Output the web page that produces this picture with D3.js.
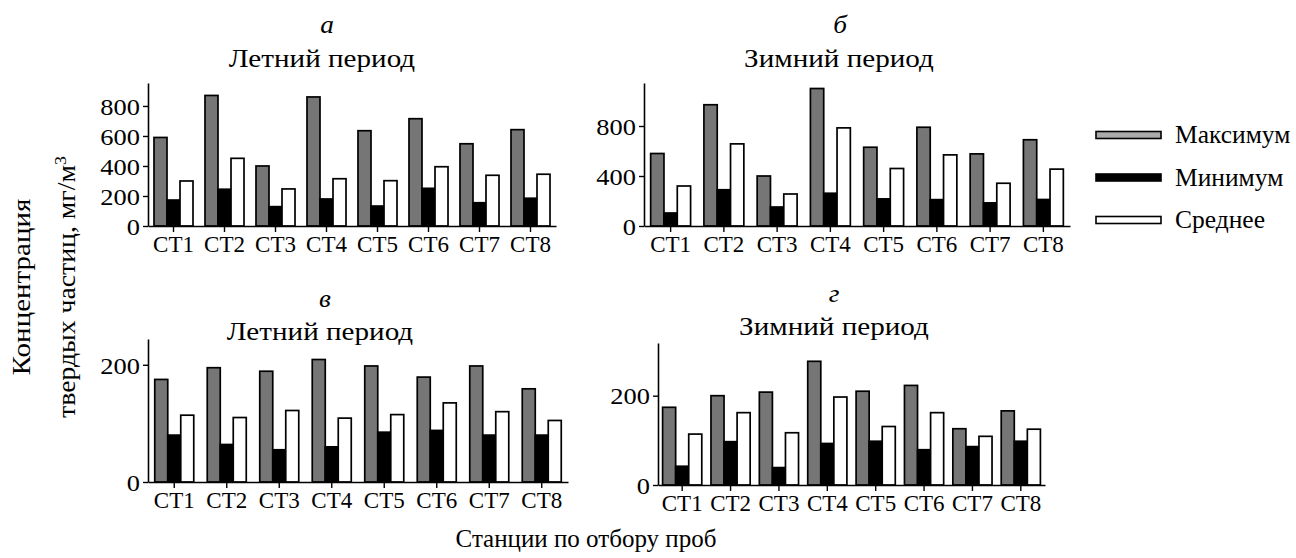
<!DOCTYPE html>
<html>
<head>
<meta charset="utf-8">
<script src="https://cdn.jsdelivr.net/npm/d3@7"></script>
<style>
  html, body { margin: 0; padding: 0; background: #fff; }
  svg { display: block; }
  text { font-family: "Liberation Serif", "Times New Roman", serif; fill: #000; }
</style>
</head>
<body>
<svg id="chart" width="1296" height="558"></svg>
<script>
// ---- data ----
const stations = ["СТ1", "СТ2", "СТ3", "СТ4", "СТ5", "СТ6", "СТ7", "СТ8"];
const seriesNames = ["Максимум", "Минимум", "Среднее"];

// panel а — summer (top)
const summerTopMax  = [590, 870, 400, 860, 635, 715, 548, 642];
const summerTopMin  = [173, 245, 129, 180, 133, 251, 155, 185];
const summerTopMean = [300, 451, 247, 315, 302, 395, 338, 345];
// panel б — winter (top)
const winterTopMax  = [580, 970, 400, 1100, 630, 790, 577, 690];
const winterTopMin  = [104, 290, 152, 262, 217, 211, 185, 212];
const winterTopMean = [320, 657, 256, 785, 460, 569, 342, 455];
// panel в — summer (bottom)
const summerBotMax  = [175, 195, 189, 209, 198, 179, 198, 159];
const summerBotMin  = [80, 64, 55, 60, 85, 88, 80, 80];
const summerBotMean = [114, 110, 122, 109, 115, 135, 120, 105];
// panel г — winter (bottom)
const winterBotMax  = [174, 200, 208, 277, 210, 223, 126, 166];
const winterBotMin  = [42, 97, 39, 93, 98, 79, 86, 98];
const winterBotMean = [114, 162, 117, 197, 131, 162, 109, 125];

const ticksTop1 = [0, 200, 400, 600, 800];
const ticksTop2 = [0, 400, 800];
const ticksBot  = [0, 200];

// ---- layout ----
const panels = [
  { letter: "а", title: "Летний период", max: summerTopMax, min: summerTopMin, mean: summerTopMean,
    ticks: ticksTop1, yMax: 953, x0: 148, x1: 556, yBase: 226, yTop: 83, pad: 0.235,
    letterPos: [327, 33], titlePos: [322, 67] },
  { letter: "б", title: "Зимний период", max: winterTopMax, min: winterTopMin, mean: winterTopMean,
    ticks: ticksTop2, yMax: 1144, x0: 644, x1: 1070, yBase: 226, yTop: 83, pad: 0.25,
    letterPos: [840, 33], titlePos: [839, 67] },
  { letter: "в", title: "Летний период", max: summerBotMax, min: summerBotMin, mean: summerBotMean,
    ticks: ticksBot, yMax: 244, x0: 148, x1: 568, yBase: 482, yTop: 339, pad: 0.257,
    letterPos: [325, 307], titlePos: [320, 340] },
  { letter: "г", title: "Зимний период", max: winterBotMax, min: winterBotMin, mean: winterBotMean,
    ticks: ticksBot, yMax: 318, x0: 658, x1: 1045, yBase: 485, yTop: 343, pad: 0.19,
    letterPos: [834, 302], titlePos: [834, 335] }
];
const fills = ["#767676", "#000000", "#ffffff"];

const svg = d3.select("#chart");

// horizontally stretched text helper
function addText(x, y, str, size, sx, anchor, italic) {
  const t = svg.append("text")
    .attr("transform", `translate(${x},${y}) scale(${sx},1)`)
    .attr("text-anchor", anchor || "middle")
    .style("font-size", size + "px")
    .text(str);
  if (italic) t.style("font-style", "italic");
  return t;
}

panels.forEach(p => {
  const g = svg.append("g");
  const x = d3.scaleBand().domain(stations).range([p.x0, p.x1])
    .paddingInner(p.pad).paddingOuter(p.pad / 2);
  const xs = d3.scaleBand().domain(seriesNames).range([0, x.bandwidth()]);
  const y = d3.scaleLinear().domain([0, p.yMax]).range([p.yBase, p.yTop]);

  const vals = [p.max, p.min, p.mean];
  stations.forEach((s, i) => {
    seriesNames.forEach((sn, k) => {
      const v = vals[k][i];
      g.append("rect")
        .attr("x", x(s) + xs(sn))
        .attr("y", y(v))
        .attr("width", xs.bandwidth())
        .attr("height", y(0) - y(v))
        .attr("fill", fills[k])
        .attr("stroke", "#000")
        .attr("stroke-width", 1.7);
    });
  });

  const yAxis = d3.axisLeft(y).tickValues(p.ticks).tickSize(5).tickSizeOuter(0).tickPadding(2);
  const ya = g.append("g").attr("transform", `translate(${p.x0},0)`).call(yAxis);
  ya.select(".domain").attr("stroke-width", 1.6);
  ya.selectAll(".tick line").attr("stroke-width", 1.4);
  ya.selectAll("text").style("font-size", "23px").attr("dy", "0.36em")
    .attr("transform", "scale(1.15,1)");

  const xAxis = d3.axisBottom(x).tickSize(6).tickSizeOuter(0).tickPadding(4);
  const xa = g.append("g").attr("transform", `translate(0,${p.yBase})`).call(xAxis);
  xa.select(".domain").attr("stroke-width", 1.6);
  xa.selectAll(".tick line").attr("stroke-width", 1.4);
  xa.selectAll("text").style("font-size", "23px");

  addText(p.letterPos[0], p.letterPos[1], p.letter, 26, 1.05, "middle", true);
  addText(p.titlePos[0], p.titlePos[1], p.title, 26, 1.12, "middle");
});

// legend
const legendFills = ["#aaaaaa", "#000000", "#ffffff"];
seriesNames.forEach((sn, k) => {
  const cy = 135 + k * 42.5;
  svg.append("rect").attr("x", 1096).attr("y", cy - 3.5).attr("width", 65).attr("height", 7)
    .attr("fill", legendFills[k]).attr("stroke", "#000").attr("stroke-width", 1.6);
  svg.append("text").attr("x", 1175).attr("y", cy).attr("dy", "0.33em")
    .style("font-size", "25.5px").text(sn);
});

// axis titles
svg.append("text").attr("transform", "translate(30,287) rotate(-90) scale(1.16,1)")
  .attr("text-anchor", "middle").style("font-size", "25px").text("Концентрация");
const yl2 = svg.append("text").attr("transform", "translate(75,287) rotate(-90) scale(1.11,1)")
  .attr("text-anchor", "middle").style("font-size", "25px");
yl2.append("tspan").text("твердых частиц, мг/м");
yl2.append("tspan").attr("baseline-shift", "super").style("font-size", "16px").text("3");

svg.append("text").attr("x", 586).attr("y", 547).attr("text-anchor", "middle")
  .style("font-size", "25px").text("Станции по отбору проб");
</script>
</body>
</html>
